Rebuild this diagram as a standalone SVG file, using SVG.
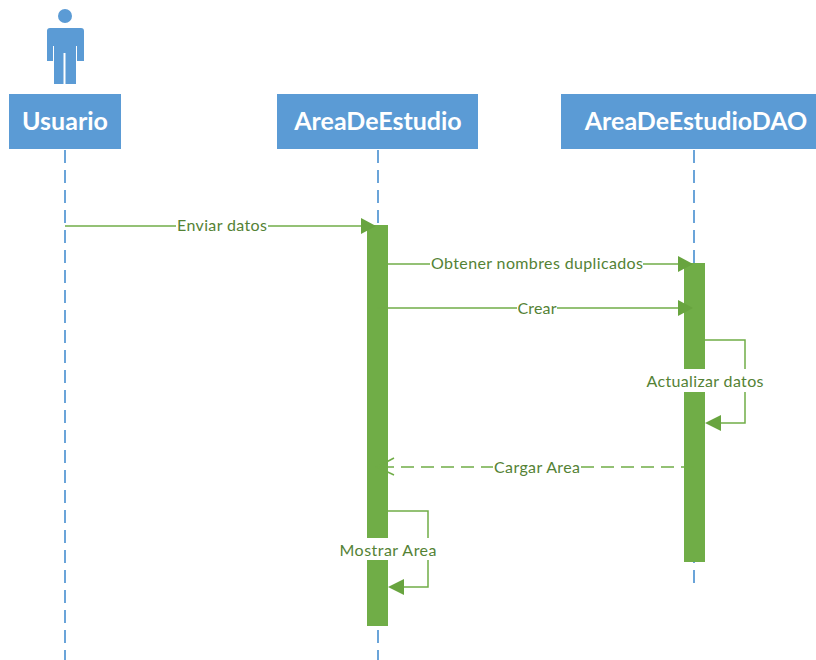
<svg xmlns="http://www.w3.org/2000/svg" width="816" height="660" viewBox="0 0 816 660">
<style>
.box{fill:#5b9bd5}
.life{stroke:#5b9bd5;stroke-width:1.8;stroke-dasharray:13 7;fill:none}
.bar{fill:#70ad47}
.c{stroke:#70ad47;stroke-width:1.5;fill:none}
.h{fill:#68a43f}
.t{font-family:Lato,"Liberation Sans",sans-serif;font-weight:bold;font-size:25px;fill:#fff;text-anchor:middle}
.l{font-family:Lato,"Liberation Sans",sans-serif;font-size:16px;fill:#548235;text-anchor:middle}
.bg{fill:#fff}
</style>
<g id="usuario">
<circle cx="65" cy="16" r="7" class="box"/>
<path class="box" d="M50 28H81Q84 28 84 31V61H77V46H76V84H65.500V53H63.500V84H54V46H53V61H47V31Q47 28 50 28Z"/>
<rect class="box" x="9" y="94" width="112" height="55"/>
<text class="t" x="65" y="130">Usuario</text>
<line class="life" x1="65" y1="150" x2="65" y2="660"/>
</g>
<g id="areadeestudio">
<rect class="box" x="277" y="94" width="201" height="55"/>
<text class="t" x="378" y="130">AreaDeEstudio</text>
<line class="life" x1="378" y1="150" x2="378" y2="660"/>
<rect class="bar" x="367" y="225" width="21" height="401"/>
</g>
<g id="areadeestudiodao">
<rect class="box" x="561" y="94" width="255" height="55"/>
<text class="t" x="696" y="130">AreaDeEstudioDAO</text>
<line class="life" x1="694" y1="150" x2="694" y2="585"/>
<rect class="bar" x="684" y="263" width="21" height="299"/>
</g>
<g id="connectors">
<path class="c" d="M65 226H362"/><path class="h" d="M361 218L376 226L361 234Z"/>
<path class="c" d="M388 264H679"/><path class="h" d="M678 256L693 264L678 272Z"/>
<path class="c" d="M377 308H679"/><path class="h" d="M678 300L693 308L678 316Z"/>
<path class="c" d="M705 340H745V423H720"/><path class="h" d="M721 415L705 423L721 431Z"/>
<path class="c" stroke-dasharray="13 7" d="M694 467H378"/><path class="c" d="M394 458L377 467L394 475"/>
<path class="c" d="M388 511H428V587H403"/><path class="h" d="M404 579L388 587L404 595Z"/>
</g>
<g id="labels">
<rect class="bg" x="176" y="216" width="92" height="20"/><text class="l" x="222" y="231" textLength="90">Enviar datos</text>
<rect class="bg" x="430" y="254" width="213" height="20"/><text class="l" x="537" y="269" textLength="212">Obtener nombres duplicados</text>
<rect class="bg" x="517" y="299" width="40" height="20"/><text class="l" x="537" y="314" textLength="39">Crear</text>
<rect class="bg" x="646" y="369" width="118" height="23"/><text class="l" x="705" y="387" textLength="117">Actualizar datos</text>
<rect class="bg" x="493" y="457" width="88" height="20"/><text class="l" x="537" y="473" textLength="86">Cargar Area</text>
<rect class="bg" x="339" y="538" width="98" height="22"/><text class="l" x="388" y="556" textLength="97">Mostrar Area</text>
</g>
</svg>
